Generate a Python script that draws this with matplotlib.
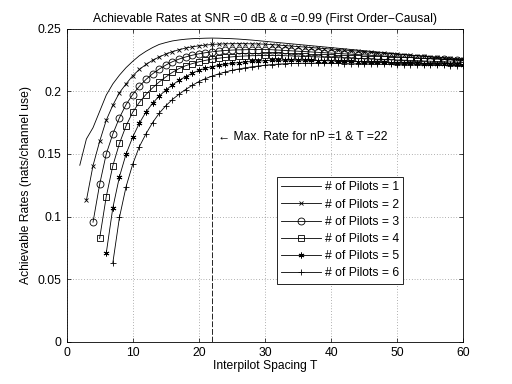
import matplotlib
matplotlib.use("Agg")
import matplotlib.pyplot as plt
from matplotlib.ticker import FuncFormatter

plt.rcParams['font.family'] = ['Liberation Sans', 'DejaVu Sans']

# Interpilot spacing (T) for each number of pilots
T1 = list(range(2, 61))
T2 = list(range(3, 61))
T3 = list(range(4, 61))
T4 = list(range(5, 61))
T5 = list(range(6, 61))
T6 = list(range(7, 61))

rate1 = [0.141, 0.162, 0.171, 0.184, 0.197, 0.206, 0.213, 0.219, 0.224, 0.2285,
         0.232, 0.235, 0.2375, 0.239, 0.2403, 0.2411, 0.2417, 0.2421, 0.2423, 0.2425,
         0.2426, 0.2425, 0.2423, 0.2421, 0.2418, 0.2414, 0.241, 0.2405, 0.240, 0.2395,
         0.239, 0.2385, 0.238, 0.2375, 0.237, 0.2365, 0.236, 0.2355, 0.235, 0.2345,
         0.234, 0.2335, 0.233, 0.2325, 0.232, 0.2315, 0.231, 0.2305, 0.230, 0.2295,
         0.229, 0.2285, 0.228, 0.2275, 0.227, 0.2265, 0.226, 0.2255, 0.225]
rate2 = [0.113, 0.1407, 0.160, 0.177, 0.189, 0.199, 0.206, 0.2125, 0.2175, 0.2215,
         0.2248, 0.2275, 0.2298, 0.2317, 0.2333, 0.2346, 0.2356, 0.2364, 0.237, 0.2375,
         0.2378, 0.238, 0.2381, 0.2381, 0.2381, 0.238, 0.2379, 0.2377, 0.2374, 0.237,
         0.2366, 0.2362, 0.2358, 0.2354, 0.235, 0.2346, 0.2342, 0.2338, 0.2334, 0.233,
         0.2326, 0.2322, 0.2318, 0.2314, 0.231, 0.2306, 0.2302, 0.2298, 0.2294, 0.229,
         0.2286, 0.2282, 0.2278, 0.2274, 0.227, 0.2266, 0.2262, 0.2258]
rate3 = [0.0955, 0.1257, 0.150, 0.166, 0.179, 0.1895, 0.1975, 0.204, 0.2095, 0.214,
         0.2178, 0.221, 0.2237, 0.2258, 0.2275, 0.2289, 0.230, 0.2309, 0.2316, 0.2322,
         0.2327, 0.233, 0.2332, 0.2333, 0.2334, 0.2334, 0.2334, 0.2333, 0.233, 0.2327,
         0.2324, 0.2321, 0.2318, 0.2315, 0.2312, 0.2309, 0.2306, 0.2303, 0.230, 0.2297,
         0.2294, 0.2291, 0.2288, 0.2285, 0.2282, 0.2279, 0.2276, 0.2273, 0.227, 0.2267,
         0.2264, 0.2261, 0.2258, 0.2255, 0.2252, 0.2249, 0.2246]
rate4 = [0.0825, 0.1159, 0.1407, 0.1585, 0.1725, 0.1833, 0.1912, 0.1975, 0.2028, 0.2075,
         0.2115, 0.2152, 0.2182, 0.2205, 0.2222, 0.2236, 0.2248, 0.2258, 0.2265, 0.2271,
         0.2276, 0.228, 0.2283, 0.2285, 0.2286, 0.2287, 0.2287, 0.2287, 0.2285, 0.2283,
         0.2281, 0.2279, 0.2277, 0.2275, 0.2273, 0.2271, 0.2269, 0.2267, 0.2265, 0.2263,
         0.2261, 0.2259, 0.2257, 0.2255, 0.2253, 0.2251, 0.2249, 0.2247, 0.2245, 0.2243,
         0.2241, 0.2239, 0.2237, 0.2235, 0.2233, 0.2231]
rate5 = [0.0707, 0.1071, 0.1319, 0.150, 0.1635, 0.1745, 0.1835, 0.1905, 0.1962, 0.201,
         0.2052, 0.2088, 0.2118, 0.2145, 0.2168, 0.2185, 0.2198, 0.2208, 0.2217, 0.2224,
         0.223, 0.2235, 0.2239, 0.2242, 0.2245, 0.2247, 0.2248, 0.2249, 0.2249, 0.2249,
         0.2248, 0.2247, 0.2246, 0.2245, 0.2243, 0.2242, 0.224, 0.2239, 0.2237, 0.2236,
         0.2234, 0.2233, 0.2231, 0.223, 0.2228, 0.2227, 0.2225, 0.2224, 0.2222, 0.2221,
         0.2219, 0.2218, 0.2216, 0.2215, 0.2213]
rate6 = [0.0632, 0.0994, 0.1239, 0.1418, 0.1558, 0.166, 0.175, 0.1825, 0.1885, 0.1935,
         0.1977, 0.2015, 0.2048, 0.2078, 0.2102, 0.2122, 0.214, 0.2155, 0.2168, 0.2179,
         0.2188, 0.2196, 0.2203, 0.2209, 0.2214, 0.2218, 0.2221, 0.2223, 0.2224, 0.2225,
         0.2225, 0.2225, 0.2224, 0.2224, 0.2223, 0.2222, 0.2221, 0.222, 0.2219, 0.2218,
         0.2217, 0.2216, 0.2215, 0.2214, 0.2213, 0.2212, 0.2211, 0.221, 0.2209, 0.2208,
         0.2207, 0.2206, 0.2205, 0.2204]

labels = ['# of Pilots = 1', '# of Pilots = 2', '# of Pilots = 3',
          '# of Pilots = 4', '# of Pilots = 5', '# of Pilots = 6']
best_T = 22
best_rate = max(rate1)

title = 'Achievable Rates at SNR =0 dB & \u03b1 =0.99 (First Order\u2212Causal)'
xlabel = 'Interpilot Spacing T'
ylabel = 'Achievable Rates (nats/channel use)'
note = '\u2190 Max. Rate for nP =1 & T =22'

fs = 8.7
fig = plt.figure(figsize=(5.12, 3.84), dpi=100)
ax = fig.add_axes([0.13, 0.11, 0.775, 0.815])

lw = 0.6
ax.plot(T1, rate1, '-', color='k', lw=lw, label=labels[0])
ax.plot(T2, rate2, '-', color='k', lw=lw, marker='x', ms=3.3, mew=0.6, label=labels[1])
ax.plot(T3, rate3, '-', color='k', lw=lw, marker='o', ms=5, mew=0.6, mfc='none', label=labels[2])
ax.plot(T4, rate4, '-', color='k', lw=lw, marker='s', ms=3.8, mew=0.6, mfc='none', label=labels[3])
ax.plot(T5, rate5, '-', color='k', lw=lw, marker=(6, 2, 0), ms=4.2, mew=0.6, label=labels[4])
ax.plot(T6, rate6, '-', color='k', lw=lw, marker='+', ms=5, mew=0.6, label=labels[5])

ax.plot([best_T, best_T], [0, best_rate], color='k', lw=0.6, dashes=(7, 2.2))
ax.text(best_T + 0.9, 0.1638, note, fontsize=fs, va='center', ha='left')

ax.set_xlim(0, 60)
ax.set_ylim(0, 0.25)
ax.set_xticks(range(0, 61, 10))
ax.set_yticks([0, 0.05, 0.1, 0.15, 0.2, 0.25])
ax.yaxis.set_major_formatter(FuncFormatter(lambda v, p: ('%g' % round(v, 2))))
ax.tick_params(direction='in', length=3, width=0.5, labelsize=fs, top=True, right=True)
ax.grid(True, linestyle=(0, (1, 3)), color='k', lw=0.5, alpha=0.6)
for s in ax.spines.values():
    s.set_linewidth(0.6)

ax.set_title(title, fontsize=fs, pad=5)
ax.set_xlabel(xlabel, fontsize=fs, labelpad=1)
ax.set_ylabel(ylabel, fontsize=fs, labelpad=4)

leg = ax.legend(loc='upper left', bbox_to_anchor=(0.531, 0.526), fontsize=fs,
                numpoints=1, handlelength=3.3, handletextpad=0.3,
                labelspacing=0.43, borderpad=0.35, fancybox=False,
                edgecolor='k', framealpha=1, borderaxespad=0)
leg.get_frame().set_linewidth(0.6)

fig.savefig('out.png', dpi=100)
